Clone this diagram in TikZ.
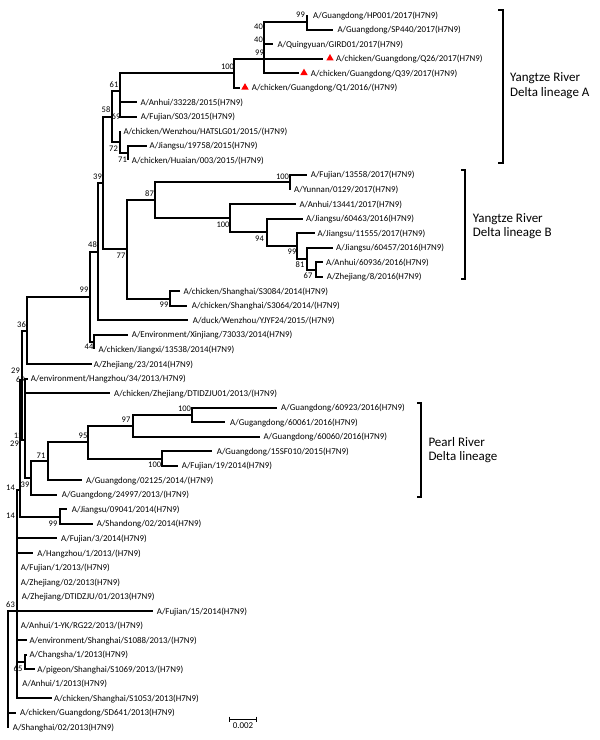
\documentclass[tikz,border=0pt]{standalone}
\usepackage{fontspec}
\setmainfont{Carlito}
\usetikzlibrary{shapes.geometric}
\tikzset{
 br/.style={line width=2pt, line join=miter},
 leaf/.style={anchor=west, inner sep=0pt, text height=6pt, text depth=0pt, font=\fontsize{8.9}{10}\selectfont},
 bs/.style={inner sep=0pt, font=\fontsize{8.5}{10}\selectfont},
 clade/.style={anchor=base west, inner sep=0pt, font=\fontsize{13}{15}\selectfont},
 tri/.style={regular polygon, regular polygon sides=3, fill=red, draw=none, inner sep=0pt, minimum size=8.5pt},
 brk/.style={line width=2pt},
 sbar/.style={line width=1pt},
}
\newcommand{\tipleaf}[5]{\coordinate (#1) at (#2,#3); \node[leaf] (#1-t) at (#4,#3) {#5};}
\begin{document}
\begin{tikzpicture}[x=1pt,y=-1pt]
\useasboundingbox (0,0) rectangle (600,740);
% ---------- leaves ----------
\tipleaf{L0}{307}{15}{313}{A/Guangdong/HP001/2017(H7N9)}
\tipleaf{L1}{333.3}{29.5}{337.3}{A/Guangdong/SP440/2017(H7N9)}
\tipleaf{L2}{273.3}{44.1}{277.3}{A/Quingyuan/GIRD01/2017(H7N9)}
\tipleaf{L3}{323.3}{58.6}{336}{A/chicken/Guangdong/Q26/2017(H7N9)}
\tipleaf{L4}{299}{73.2}{310.7}{A/chicken/Guangdong/Q39/2017(H7N9)}
\tipleaf{L5}{240}{87.7}{251.7}{A/chicken/Guangdong/Q1/2016/(H7N9)}
\tipleaf{L6}{136.7}{102.2}{140.3}{A/Anhui/33228/2015(H7N9)}
\tipleaf{L7}{136.7}{116.8}{140.7}{A/Fujian/S03/2015(H7N9)}
\tipleaf{L8}{120}{131.3}{123.3}{A/chicken/Wenzhou/HATSLG01/2015/(H7N9)}
\tipleaf{L9}{146.7}{145.9}{149.5}{A/Jiangsu/19758/2015(H7N9)}
\tipleaf{L10}{128.3}{160.4}{131.7}{A/chicken/Huaian/003/2015/(H7N9)}
\tipleaf{L11}{307}{174.9}{310.7}{A/Fujian/13558/2017(H7N9)}
\tipleaf{L12}{290}{189.5}{294}{A/Yunnan/0129/2017(H7N9)}
\tipleaf{L13}{296}{204}{299.3}{A/Anhui/13441/2017(H7N9)}
\tipleaf{L14}{303.3}{218.6}{306}{A/Jiangsu/60463/2016(H7N9)}
\tipleaf{L15}{315}{233.1}{317.3}{A/Jiangsu/11555/2017(H7N9)}
\tipleaf{L16}{333.3}{247.6}{336}{A/Jiangsu/60457/2016(H7N9)}
\tipleaf{L17}{323.3}{262.2}{326}{A/Anhui/60936/2016(H7N9)}
\tipleaf{L18}{323.3}{276.7}{326.7}{A/Zhejiang/8/2016(H7N9)}
\tipleaf{L19}{180}{291.3}{183.3}{A/chicken/Shanghai/S3084/2014(H7N9)}
\tipleaf{L20}{186.7}{305.8}{191.7}{A/chicken/Shanghai/S3064/2014/(H7N9)}
\tipleaf{L21}{188.3}{320.3}{192.7}{A/duck/Wenzhou/YJYF24/2015/(H7N9)}
\tipleaf{L22}{128.3}{334.9}{131.7}{A/Environment/Xinjiang/73033/2014(H7N9)}
\tipleaf{L23}{94.3}{349.4}{98.3}{A/chicken/Jiangxi/13538/2014(H7N9)}
\tipleaf{L24}{91.7}{364}{93.7}{A/Zhejiang/23/2014(H7N9)}
\tipleaf{L25}{28.3}{378.5}{30.7}{A/environment/Hangzhou/34/2013/H7N9)}
\tipleaf{L26}{110}{393}{114}{A/chicken/Zhejiang/DTIDZJU01/2013/(H7N9)}
\tipleaf{L27}{276.7}{407.6}{281}{A/Guangdong/60923/2016(H7N9)}
\tipleaf{L28}{225}{422.1}{230}{A/Gugangdong/60061/2016(H7N9)}
\tipleaf{L29}{260}{436.7}{263.3}{A/Guangdong/60060/2016(H7N9)}
\tipleaf{L30}{212.3}{451.2}{216.7}{A/Guangdong/15SF010/2015(H7N9)}
\tipleaf{L31}{178.3}{465.7}{181.7}{A/Fujian/19/2014(H7N9)}
\tipleaf{L32}{81.7}{480.3}{86}{A/Guangdong/02125/2014/(H7N9)}
\tipleaf{L33}{56.7}{494.8}{61.7}{A/Guangdong/24997/2013/(H7N9)}
\tipleaf{L34}{66.7}{509.4}{71.7}{A/Jiangsu/09041/2014(H7N9)}
\tipleaf{L35}{93.3}{523.9}{96.7}{A/Shandong/02/2014(H7N9)}
\tipleaf{L36}{56.7}{538.4}{61}{A/Fujian/3/2014(H7N9)}
\tipleaf{L37}{33.3}{553}{37.3}{A/Hangzhou/1/2013/(H7N9)}
\tipleaf{L38}{16.7}{567.5}{20.7}{A/Fujian/1/2013/(H7N9)}
\tipleaf{L39}{16.7}{582.1}{20.7}{A/Zhejiang/02/2013(H7N9)}
\tipleaf{L40}{16.7}{596.6}{21.7}{A/Zhejiang/DTIDZJU/01/2013(H7N9)}
\tipleaf{L41}{153.3}{611.1}{156.7}{A/Fujian/15/2014(H7N9)}
\tipleaf{L42}{16.7}{625.7}{20.7}{A/Anhui/1-YK/RG22/2013/(H7N9)}
\tipleaf{L43}{26.7}{640.2}{29.3}{A/environment/Shanghai/S1088/2013/(H7N9)}
\tipleaf{L44}{26.7}{654.8}{29.3}{A/Changsha/1/2013(H7N9)}
\tipleaf{L45}{35}{669.3}{37.3}{A/pigeon/Shanghai/S1069/2013/(H7N9)}
\tipleaf{L46}{16.7}{683.8}{22.3}{A/Anhui/1/2013(H7N9)}
\tipleaf{L47}{51.7}{698.4}{54}{A/chicken/Shanghai/S1053/2013(H7N9)}
\tipleaf{L48}{16}{712.9}{20}{A/chicken/Guangdong/SD641/2013(H7N9)}
\tipleaf{L49}{8.3}{727.5}{12.7}{A/Shanghai/02/2013(H7N9)}
% ---------- marker triangles ----------
\node[tri] (m3) at (330,58.3) {};
\node[tri] (m4) at (304,72.9) {};
\node[tri] (m5) at (245,87.4) {};
% ---------- internal nodes ----------
\coordinate (n99a) at (307,22.2);
\coordinate (nA) at (264.3,58.8);
\coordinate (n100) at (234,73.3);
\coordinate (n69) at (120,109.5);
\coordinate (n61) at (120,91.4);
\coordinate (n71) at (128.3,153.2);
\coordinate (n72) at (120,142.2);
\coordinate (n58) at (111.7,116.8);
\coordinate (n100b) at (290,182.2);
\coordinate (n67) at (316,269.5);
\coordinate (n81) at (306.7,258.5);
\coordinate (n99b) at (297.3,245.8);
\coordinate (n94) at (266.7,232.2);
\coordinate (n100c) at (230,218.1);
\coordinate (n87) at (155,200.2);
\coordinate (n99c) at (170,298.5);
\coordinate (n77) at (126.7,249.4);
\coordinate (n39) at (103.3,183.1);
\coordinate (n48) at (98.3,251.7);
\coordinate (n44) at (94.3,342.2);
\coordinate (n99d) at (90,297);
\coordinate (n36) at (26.7,330.5);
\coordinate (n100d) at (192.3,414.9);
\coordinate (n97) at (132.7,425.8);
\coordinate (n100e) at (162.3,458.5);
\coordinate (n95) at (88.3,442.1);
\coordinate (n71p) at (48.3,461.2);
\coordinate (n39p) at (30.7,478);
\coordinate (n99e) at (60,516.6);
\coordinate (n65) at (25,662);
\coordinate (bB) at (25,440);
\coordinate (bA) at (22.3,380);
\coordinate (bC) at (19.5,490);
\coordinate (n63) at (16.7,611.1);
\coordinate (root) at (8.3,669);
% ---------- branches ----------
\begin{scope}[br]
\draw (n99a) |- (L0); \draw (n99a) |- (L1);
\draw (nA) |- (n99a); \draw (nA) |- (L2); \draw (nA) |- (L3); \draw (nA) |- (L4);
\draw (n100) |- (nA); \draw (n100) |- (L5);
\draw (n69) |- (L6); \draw (n69) |- (L7);
\draw (n61) |- (n100); \draw (n61) |- (n69);
\draw (n71) |- (L9); \draw (n71) |- (L10);
\draw (n72) |- (L8); \draw (n72) |- (n71);
\draw (n58) |- (n61); \draw (n58) |- (n72);
\draw (n100b) |- (L11); \draw (n100b) |- (L12);
\draw (n67) |- (L17); \draw (n67) |- (L18);
\draw (n81) |- (L16); \draw (n81) |- (n67);
\draw (n99b) |- (L15); \draw (n99b) |- (n81);
\draw (n94) |- (L14); \draw (n94) |- (n99b);
\draw (n100c) |- (L13); \draw (n100c) |- (n94);
\draw (n87) |- (n100b); \draw (n87) |- (n100c);
\draw (n99c) |- (L19); \draw (n99c) |- (L20);
\draw (n77) |- (n87); \draw (n77) |- (n99c);
\draw (n39) |- (n58); \draw (n39) |- (n77);
\draw (n48) |- (n39); \draw (n48) |- (L21);
\draw (n44) |- (L22); \draw (n44) |- (L23);
\draw (n99d) |- (n48); \draw (n99d) |- (n44);
\draw (n36) |- (n99d); \draw (n36) |- (L24);
\draw (n100d) |- (L27); \draw (n100d) |- (L28);
\draw (n97) |- (n100d); \draw (n97) |- (L29);
\draw (n100e) |- (L30); \draw (n100e) |- (L31);
\draw (n95) |- (n97); \draw (n95) |- (n100e);
\draw (n71p) |- (n95); \draw (n71p) |- (L32);
\draw (n39p) |- (n71p); \draw (n39p) |- (L33);
\draw (n99e) |- (L34); \draw (n99e) |- (L35);
\draw (n65) |- (L44); \draw (n65) |- (L45);
\draw (bB) |- (L25); \draw (bB) |- (L26); \draw (bB) |- (n39p);
\draw (bA) |- (n36); \draw (bA) |- (bB);
\draw (bC) |- (bA); \draw (bC) |- (n99e);
\draw (n63) |- (bC); \draw (n63) |- (L36); \draw (n63) |- (L37);
\draw (n63) |- (L41); \draw (n63) |- (L43); \draw (n63) |- (n65); \draw (n63) |- (L47);
\draw (root) |- (n63); \draw (root) |- (L48); \draw (root) |- (L49);
\end{scope}
% ---------- bootstrap values ----------
\node[bs] (b1) at (300.5,15) {99};
\node[bs] (b2) at (258.5,26.7) {40};
\node[bs] (b3) at (258.5,39.3) {40};
\node[bs] (b4) at (259.5,52.3) {99};
\node[bs] (b5) at (227.5,66.7) {100};
\node[bs] (b6) at (114,85) {61};
\node[bs] (b7) at (106,110) {58};
\node[bs] (b8) at (116,116.7) {69};
\node[bs] (b9) at (113.5,149) {72};
\node[bs] (b10) at (122.5,160) {71};
\node[bs] (b11) at (97.5,176.7) {39};
\node[bs] (b12) at (282.5,176.7) {100};
\node[bs] (b13) at (149.5,193.3) {87};
\node[bs] (b14) at (223,225) {100};
\node[bs] (b15) at (259.5,238.3) {94};
\node[bs] (b16) at (292,251.3) {99};
\node[bs] (b17) at (300,264.3) {81};
\node[bs] (b18) at (308,275.7) {67};
\node[bs] (b19) at (121,256) {77};
\node[bs] (b20) at (92.5,245) {48};
\node[bs] (b21) at (164,305) {99};
\node[bs] (b22) at (84,290) {99};
\node[bs] (b23) at (89,346.7) {44};
\node[bs] (b24) at (21.5,325) {36};
\node[bs] (b25) at (15.5,370.5) {29};
\node[bs] (b26) at (20.5,379.5) {69};
\node[bs] (b27) at (18.3,435.5) {12};
\node[bs] (b28) at (14.5,443.5) {29};
\node[bs] (b29) at (41,455.7) {71};
\node[bs] (b30) at (83,436) {95};
\node[bs] (b31) at (126,419.3) {97};
\node[bs] (b32) at (184.5,408.3) {100};
\node[bs] (b33) at (154.7,465) {100};
\node[bs] (b34) at (25,485) {39};
\node[bs] (b35) at (10.5,487.7) {14};
\node[bs] (b36) at (10.5,515.3) {14};
\node[bs] (b37) at (53,523.3) {99};
\node[bs] (b38) at (10.5,604.3) {63};
\node[bs] (b39) at (18,668.3) {65};
% ---------- clade brackets ----------
\coordinate (kAt) at (502.7,10); \coordinate (kAb) at (502.7,163.3);
\draw[brk] ([xshift=-4.4pt]kAt) -- (kAt) -- (kAb) -- ([xshift=-4.4pt]kAb);
\node[clade] (cA1) at (510,81.7) {Yangtze River};
\node[clade] (cA2) at (510,96) {Delta lineage A};
\coordinate (kBt) at (465,170); \coordinate (kBb) at (465,279.3);
\draw[brk] ([xshift=-4pt]kBt) -- (kBt) -- (kBb) -- ([xshift=-4pt]kBb);
\node[clade] (cB1) at (472.7,222.3) {Yangtze River};
\node[clade] (cB2) at (472.7,236) {Delta lineage B};
\coordinate (kPt) at (420.7,402.7); \coordinate (kPb) at (420.7,496.7);
\draw[brk] ([xshift=-3.4pt]kPt) -- (kPt) -- (kPb) -- ([xshift=-3.4pt]kPb);
\node[clade] (cP1) at (428.3,446.7) {Pearl River};
\node[clade] (cP2) at (428.3,460) {Delta lineage};
% ---------- scale bar ----------
\coordinate (s1) at (229.3,719); \coordinate (s2) at (256.7,719);
\draw[sbar] (s1) -- (s2);
\draw[sbar] ([yshift=2.5pt]s1) -- ([yshift=-2.5pt]s1);
\draw[sbar] ([yshift=2.5pt]s2) -- ([yshift=-2.5pt]s2);
\node[bs, font=\fontsize{8.9}{10}\selectfont] (sl) at (243,725.5) {0.002};
\end{tikzpicture}
\end{document}
